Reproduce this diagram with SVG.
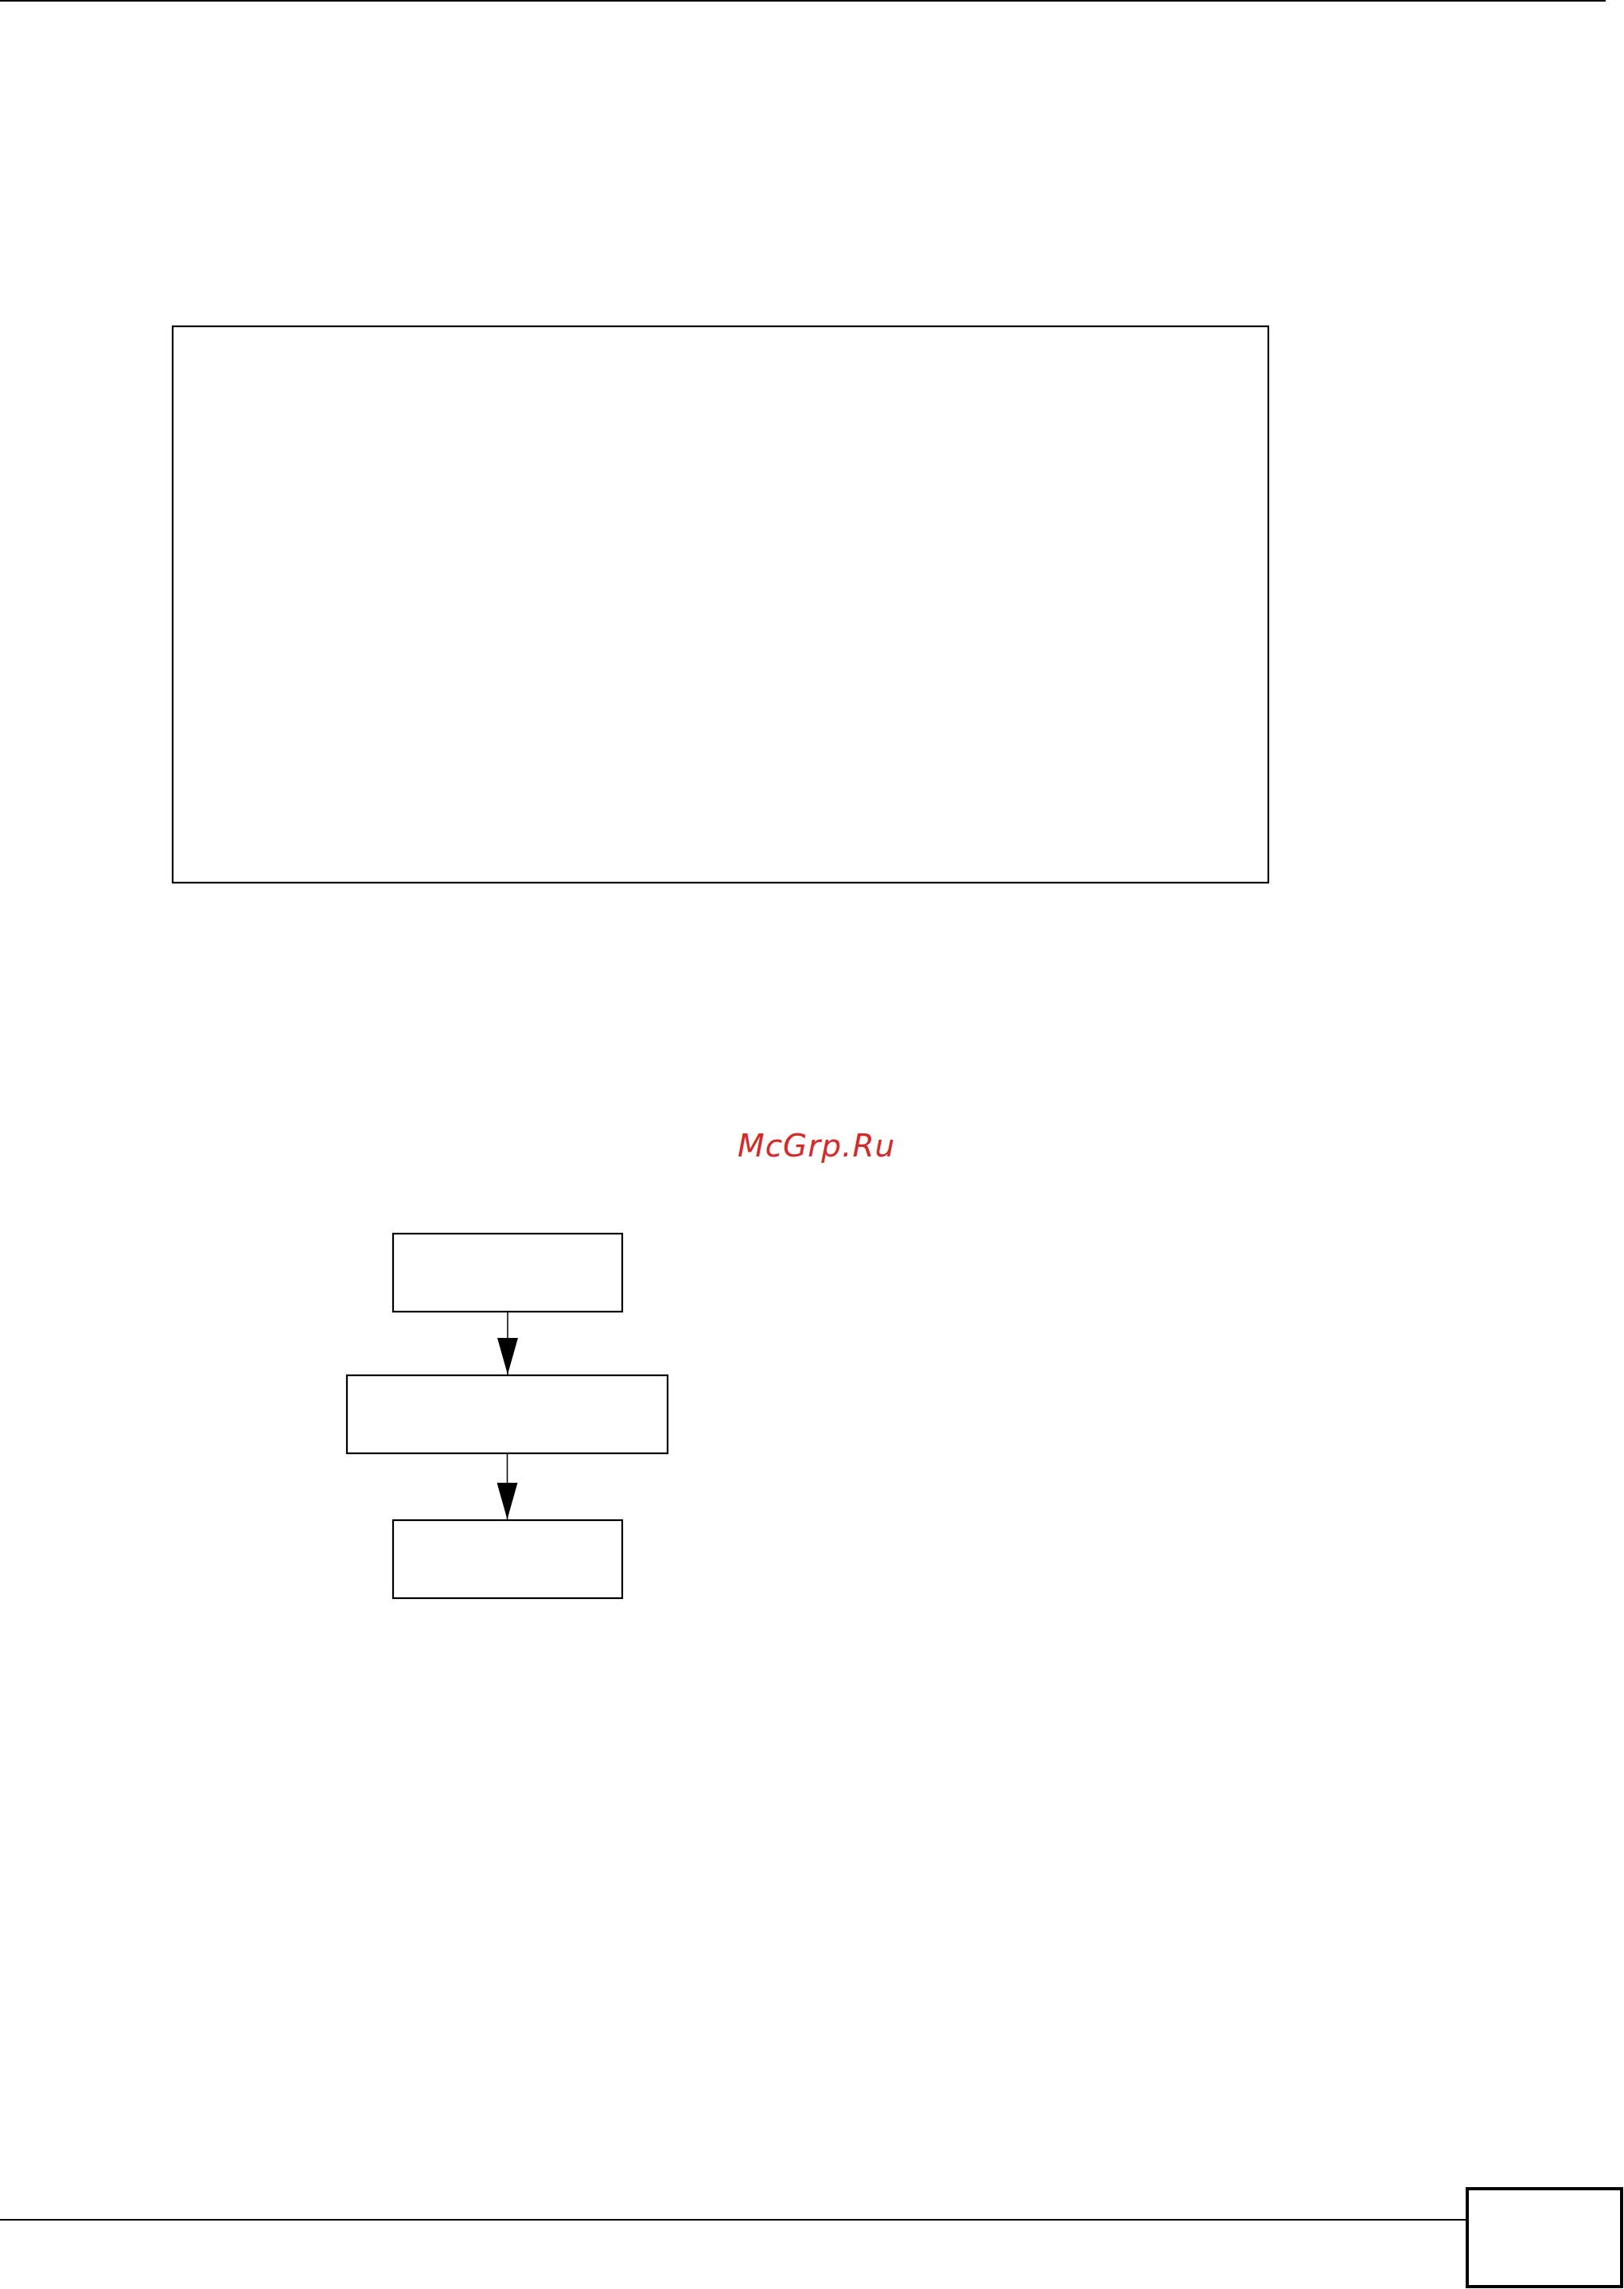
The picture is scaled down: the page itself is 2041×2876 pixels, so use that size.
<svg xmlns="http://www.w3.org/2000/svg" width="2041" height="2876" viewBox="0 0 2041 2876">
<style>
.box{fill:#fff;stroke:#000;stroke-width:2.2}
.conn{stroke:#000;stroke-width:1.5;fill:none;marker-end:url(#arr)}
.rule{stroke:#000;stroke-width:2}
.wm{font-family:"DejaVu Sans",sans-serif;font-style:italic;font-size:39px;letter-spacing:1px;fill:#d42a2a}
</style>
<defs>
<marker id="arr" markerUnits="userSpaceOnUse" markerWidth="46" markerHeight="26" refX="46" refY="13" orient="auto" viewBox="0 0 46 26">
<path d="M0,0 L46,13 L0,26 Z" fill="#000"/>
</marker>
</defs>
<rect width="2041" height="2876" fill="#fff"/>
<line class="rule" x1="0" y1="1" x2="2018" y2="1"/>
<g id="panel"><rect class="box" x="217" y="410" width="1377" height="699"/></g>
<text class="wm" x="927" y="1453">McGrp.Ru</text>
<g id="node1"><rect class="box" x="494" y="1550" width="288" height="98"/></g>
<g id="node2"><rect class="box" x="436" y="1728" width="403" height="98"/></g>
<g id="node3"><rect class="box" x="494" y="1910" width="288" height="98"/></g>
<g id="connectors">
<line class="conn" x1="638" y1="1649" x2="638" y2="1727"/>
<line class="conn" x1="637.5" y1="1827" x2="637.5" y2="1909"/>
</g>
<line class="rule" x1="0" y1="2789" x2="1843" y2="2789"/>
<g id="pagebox"><rect x="1844" y="2750" width="194" height="123" fill="#fff" stroke="#000" stroke-width="4"/></g>
</svg>
